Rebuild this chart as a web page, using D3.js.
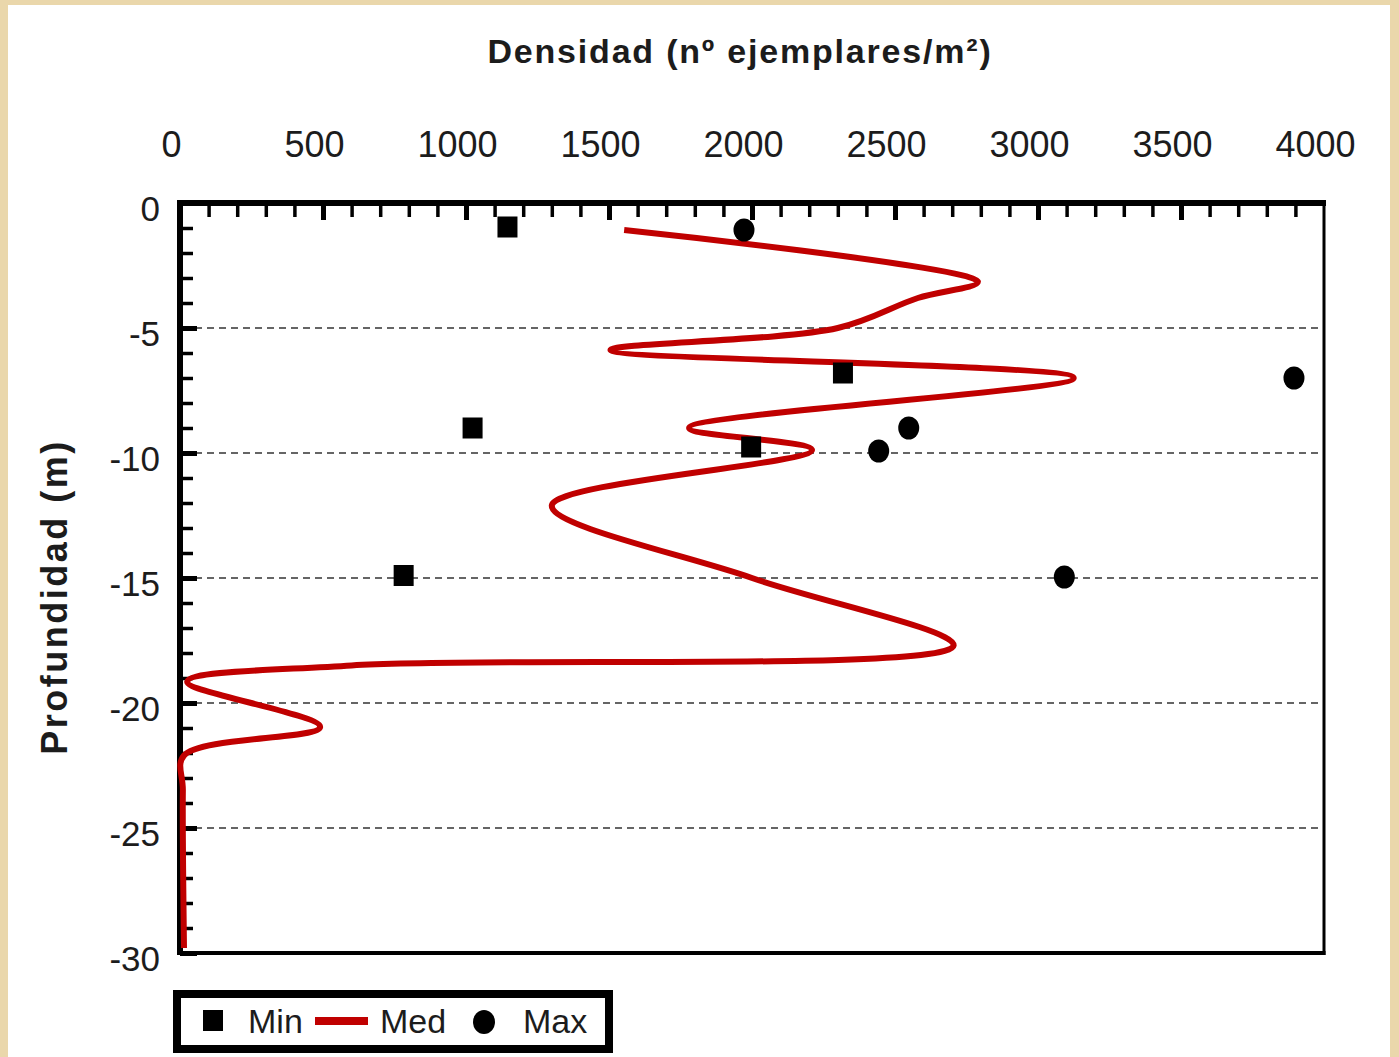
<!DOCTYPE html>
<html>
<head>
<meta charset="utf-8">
<script src="https://cdn.jsdelivr.net/npm/d3@7"></script>
<style>
  html, body { margin: 0; padding: 0; background: #ead7ab; }
  svg { display: block; }
  text { font-family: "Liberation Sans", Arial, sans-serif; fill: #1c1c1c; }
</style>
</head>
<body>
<svg id="chart" width="1399" height="1057"></svg>
<script>
// Depth profile of density: minimum, median and maximum values
const minDensity   = [1145, 2318, 1023, 1997, 782];
const minDepth     = [-0.96, -6.8, -9.0, -9.76, -14.9];

const maxDensity   = [1972, 3895, 2548, 2443, 3092];
const maxDepth     = [-1.08, -7.0, -9.0, -9.92, -14.96];

const medDensity   = [1553, 2790, 2580, 2300, 1505, 3125, 1780, 2210, 1300, 2000, 2705, 600, 25, 490, 14, 10, 14];
const medDepth     = [-1.08, -3.15, -3.8, -5.0, -5.88, -7.0, -9.0, -9.88, -12.1, -15.0, -17.7, -18.5, -19.15, -20.96, -22.1, -23.5, -29.8];

const xTickLabels  = [0, 500, 1000, 1500, 2000, 2500, 3000, 3500, 4000];
const yTickLabels  = [0, -5, -10, -15, -20, -25, -30];
const legendLabels = ["Min", "Med", "Max"];

const svg = d3.select("#chart");
const W = 1399, H = 1057;

// parchment border and white sheet
svg.append("rect").attr("width", W).attr("height", H).attr("fill", "#ead7ab");
svg.append("rect").attr("x", 8).attr("y", 5).attr("width", 1382).attr("height", H - 5).attr("fill", "#ffffff");

const x = d3.scaleLinear().domain([0, 4000]).range([180, 1324]);
const y = d3.scaleLinear().domain([-30, 0]).range([953, 203]);

// dashed reference lines every 5 m
svg.append("g").selectAll("line")
  .data(yTickLabels.filter(v => v !== 0 && v !== -30))
  .join("line")
  .attr("x1", x(0) + 3).attr("x2", x(4000) - 2)
  .attr("y1", d => y(d)).attr("y2", d => y(d))
  .attr("stroke", "#333").attr("stroke-width", 1.6)
  .attr("stroke-dasharray", "7,5");

// frame: right and bottom
svg.append("line").attr("x1", x(4000)).attr("x2", x(4000)).attr("y1", y(0)).attr("y2", y(-30) + 2)
  .attr("stroke", "#000").attr("stroke-width", 3);
svg.append("line").attr("x1", x(0)).attr("x2", x(4000) + 1.5).attr("y1", y(-30)).attr("y2", y(-30))
  .attr("stroke", "#000").attr("stroke-width", 4);

// top axis ticks (pointing inward)
const minorX = d3.range(100, 4000, 100).filter(v => v % 500 !== 0);
const majorX = d3.range(500, 4000, 500);
const gxMinor = svg.append("g").attr("transform", `translate(0,${y(0)})`)
  .call(d3.axisTop(x).tickValues(minorX).tickSize(-14).tickFormat(""));
gxMinor.select(".domain").remove();
gxMinor.selectAll(".tick line").attr("stroke", "#000").attr("stroke-width", 3.5);
const gxMajor = svg.append("g").attr("transform", `translate(0,${y(0)})`)
  .call(d3.axisTop(x).tickValues(majorX).tickSize(-17).tickFormat(""));
gxMajor.select(".domain").remove();
gxMajor.selectAll(".tick line").attr("stroke", "#000").attr("stroke-width", 5);

// left axis ticks (pointing inward)
const minorY = d3.range(-29, 0, 1).filter(v => v % 5 !== 0);
const majorY = d3.range(-25, 0, 5);
const gyMinor = svg.append("g").attr("transform", `translate(${x(0)},0)`)
  .call(d3.axisLeft(y).tickValues(minorY).tickSize(-13).tickFormat(""));
gyMinor.select(".domain").remove();
gyMinor.selectAll(".tick line").attr("stroke", "#000").attr("stroke-width", 3.5);
const gyMajor = svg.append("g").attr("transform", `translate(${x(0)},0)`)
  .call(d3.axisLeft(y).tickValues(majorY.concat([-30])).tickSize(-17).tickFormat(""));
gyMajor.select(".domain").remove();
gyMajor.selectAll(".tick line").attr("stroke", "#000").attr("stroke-width", 5);

// thick top and left axis lines
svg.append("line").attr("x1", x(0) - 3).attr("x2", x(4000) + 2).attr("y1", y(0)).attr("y2", y(0))
  .attr("stroke", "#000").attr("stroke-width", 6);
svg.append("line").attr("x1", x(0)).attr("x2", x(0)).attr("y1", y(0) - 3).attr("y2", y(-30) + 2)
  .attr("stroke", "#000").attr("stroke-width", 6);

// median profile (drawn over the axis so the near-zero tail stays visible)
const medPts = medDensity.map((v, i) => ({ v, d: medDepth[i] }));
const line = d3.line().x(p => x(p.v)).y(p => y(p.d)).curve(d3.curveCatmullRom.alpha(0.5));
svg.append("path").datum(medPts)
  .attr("d", line)
  .attr("fill", "none").attr("stroke", "#c00000")
  .attr("stroke-width", 6).attr("stroke-linejoin", "round").attr("stroke-linecap", "butt");

// tick labels
const gxLab = svg.append("g").attr("transform", `translate(-9,157)`)
  .call(d3.axisTop(x).tickValues(xTickLabels).tickSize(0).tickPadding(0).tickFormat(d => String(d)));
gxLab.select(".domain").remove();
gxLab.selectAll("text").attr("font-size", 36).attr("fill", "#1c1c1c")
  .style("font-family", '"Liberation Sans", Arial, sans-serif');

const gyLab = svg.append("g").attr("transform", `translate(160,6)`)
  .call(d3.axisLeft(y).tickValues(yTickLabels).tickSize(0).tickPadding(0).tickFormat(d => String(d)));
gyLab.select(".domain").remove();
gyLab.selectAll("text").attr("font-size", 35).attr("fill", "#1c1c1c")
  .style("font-family", '"Liberation Sans", Arial, sans-serif');

// axis titles
svg.append("text").attr("x", 740).attr("y", 63).attr("text-anchor", "middle")
  .attr("font-size", 34).attr("font-weight", "bold").attr("letter-spacing", 1.8)
  .text("Densidad (nº ejemplares/m²)");
svg.append("text").attr("transform", "translate(67,597) rotate(-90)").attr("text-anchor", "middle")
  .attr("font-size", 36).attr("font-weight", "bold").attr("letter-spacing", 2.5)
  .text("Profundidad (m)");

// minimum markers (squares)
svg.append("g").selectAll("rect")
  .data(minDensity.map((v, i) => ({ v, d: minDepth[i] })))
  .join("rect")
  .attr("x", p => x(p.v) - 10).attr("y", p => y(p.d) - 10.5)
  .attr("width", 20).attr("height", 21).attr("fill", "#000");

// maximum markers (dots)
svg.append("g").selectAll("ellipse")
  .data(maxDensity.map((v, i) => ({ v, d: maxDepth[i] })))
  .join("ellipse")
  .attr("cx", p => x(p.v)).attr("cy", p => y(p.d))
  .attr("rx", 10.5).attr("ry", 11.5).attr("fill", "#000");

// legend
const lg = svg.append("g");
lg.append("rect").attr("x", 177).attr("y", 994).attr("width", 432).attr("height", 55)
  .attr("fill", "#fff").attr("stroke", "#000").attr("stroke-width", 8);
lg.append("rect").attr("x", 203).attr("y", 1010).attr("width", 20).attr("height", 21).attr("fill", "#000");
lg.append("text").attr("x", 248).attr("y", 1033).attr("font-size", 34).text(legendLabels[0]);
lg.append("line").attr("x1", 315).attr("x2", 368).attr("y1", 1021).attr("y2", 1021)
  .attr("stroke", "#c00000").attr("stroke-width", 8);
lg.append("text").attr("x", 380).attr("y", 1033).attr("font-size", 34).text(legendLabels[1]);
lg.append("ellipse").attr("cx", 484).attr("cy", 1022).attr("rx", 11).attr("ry", 12).attr("fill", "#000");
lg.append("text").attr("x", 523).attr("y", 1033).attr("font-size", 34).text(legendLabels[2]);
</script>
</body>
</html>
